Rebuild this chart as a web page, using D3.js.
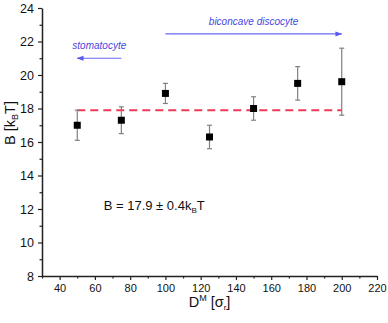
<!DOCTYPE html>
<html>
<head>
<meta charset="utf-8">
<script src="https://cdn.jsdelivr.net/npm/d3@7"></script>
<style>
  body { margin: 0; background: #fff; }
  svg { display: block; font-family: "Liberation Sans", Arial, sans-serif; }
</style>
</head>
<body>
<div id="chart"></div>
<script>
// data
const diameters = [50, 75, 100, 125, 150, 175, 200];
const bValues   = [17.0, 17.3, 18.9, 16.3, 18.0, 19.5, 19.6];
const errLow    = [16.1, 16.5, 18.3, 15.6, 17.3, 18.5, 17.6];
const errHigh   = [17.9, 18.1, 19.5, 17.0, 18.7, 20.5, 21.6];
const meanB = 17.9;
const meanRange = [50, 200];
const xTicks = [40, 60, 80, 100, 120, 140, 160, 180, 200, 220];
const yTicks = [8, 10, 12, 14, 16, 18, 20, 22, 24];
const stomatoArrow = { from: 75, to: 50, y: 21.0, label: 'stomatocyte' };
const biconcArrow = { from: 100, to: 200, y: 22.45, label: 'biconcave discocyte' };

const width = 388, height = 323;
const margin = { top: 8, right: 11, bottom: 47, left: 42 };

const svg = d3.select('#chart').append('svg')
    .attr('width', width)
    .attr('height', height);

const x = d3.scaleLinear().domain([30, 220]).range([margin.left, width - margin.right]);
const y = d3.scaleLinear().domain([8, 24]).range([height - margin.bottom, margin.top]);

const defs = svg.append('defs');
defs.append('marker')
    .attr('id', 'arrowhead')
    .attr('viewBox', '0 0 10 10')
    .attr('refX', 9).attr('refY', 5)
    .attr('markerWidth', 7).attr('markerHeight', 7)
    .attr('markerUnits', 'userSpaceOnUse')
    .attr('orient', 'auto')
    .append('path')
    .attr('d', 'M0,1.5L10,5L0,8.5Z')
    .attr('fill', '#5a5af0');

// axes
const axisColor = '#222';
const xAxis = svg.append('g')
    .attr('transform', `translate(0,${y(8)})`)
    .call(d3.axisBottom(x).tickValues(xTicks).tickSize(4).tickSizeOuter(0).tickPadding(4));
const xMinor = svg.append('g')
    .attr('transform', `translate(0,${y(8)})`)
    .call(d3.axisBottom(x).tickValues(d3.range(30, 221, 10).filter(v => !xTicks.includes(v))).tickSize(2.5).tickFormat(''));
xMinor.select('.domain').remove();

const yAxis = svg.append('g')
    .attr('transform', `translate(${x(30)},0)`)
    .call(d3.axisLeft(y).tickValues(yTicks).tickSize(4).tickSizeOuter(0).tickPadding(4));
const yMinor = svg.append('g')
    .attr('transform', `translate(${x(30)},0)`)
    .call(d3.axisLeft(y).tickValues(d3.range(9, 24, 2)).tickSize(2.5).tickFormat(''));
yMinor.select('.domain').remove();

svg.selectAll('.domain').attr('stroke', axisColor).attr('stroke-width', 1.5);
svg.selectAll('.tick line').attr('stroke', axisColor).attr('stroke-width', 1.2);
xAxis.selectAll('text').attr('font-size', 11).attr('fill', '#111');
yAxis.selectAll('text').attr('font-size', 12.5).attr('fill', '#111');

// axis titles
const xTitle = svg.append('text')
    .attr('x', (x(30) + x(220)) / 2)
    .attr('y', 307)
    .attr('text-anchor', 'middle')
    .attr('font-size', 14.5)
    .attr('fill', '#111');
xTitle.append('tspan').text('D');
xTitle.append('tspan').attr('font-size', 9).attr('dy', -6).text('M');
xTitle.append('tspan').attr('dy', 6).text(' [σ');
xTitle.append('tspan').attr('font-size', 8).attr('dy', 3).text('r');
xTitle.append('tspan').attr('dy', -3).text(']');

const yTitle = svg.append('text')
    .attr('transform', `translate(15,123) rotate(-90)`)
    .attr('text-anchor', 'middle')
    .attr('font-size', 14.5)
    .attr('fill', '#111');
yTitle.append('tspan').text('B [k');
yTitle.append('tspan').attr('font-size', 9).attr('dy', 3).text('B');
yTitle.append('tspan').attr('dy', -3).text('T]');

// mean line
svg.append('line')
    .attr('x1', x(meanRange[0])).attr('x2', x(meanRange[1]))
    .attr('y1', y(meanB)).attr('y2', y(meanB))
    .attr('stroke', '#ef3a57')
    .attr('stroke-width', 2)
    .attr('stroke-dasharray', '8,5');

// error bars
const pts = diameters.map((d, i) => ({ d, b: bValues[i], lo: errLow[i], hi: errHigh[i] }));
const bars = svg.append('g').attr('stroke', '#808080').attr('stroke-width', 1.2);
bars.selectAll('.stem').data(pts).join('line')
    .attr('x1', p => x(p.d)).attr('x2', p => x(p.d))
    .attr('y1', p => y(p.lo)).attr('y2', p => y(p.hi));
bars.selectAll('.capHi').data(pts).join('line')
    .attr('x1', p => x(p.d) - 2.5).attr('x2', p => x(p.d) + 2.5)
    .attr('y1', p => y(p.hi)).attr('y2', p => y(p.hi));
bars.selectAll('.capLo').data(pts).join('line')
    .attr('x1', p => x(p.d) - 2.5).attr('x2', p => x(p.d) + 2.5)
    .attr('y1', p => y(p.lo)).attr('y2', p => y(p.lo));

// markers
const sq = 7;
svg.append('g').selectAll('rect').data(pts).join('rect')
    .attr('x', p => x(p.d) - sq / 2)
    .attr('y', p => y(p.b) - sq / 2)
    .attr('width', sq).attr('height', sq)
    .attr('fill', '#000');

// shape arrows
[stomatoArrow, biconcArrow].forEach(a => {
    svg.append('line')
        .attr('x1', x(a.from)).attr('x2', x(a.to))
        .attr('y1', y(a.y)).attr('y2', y(a.y))
        .attr('stroke', '#6a6af2')
        .attr('stroke-width', 1.2)
        .attr('marker-end', 'url(#arrowhead)');
    svg.append('text')
        .attr('x', (x(a.from) + x(a.to)) / 2)
        .attr('y', y(a.y) - 9)
        .attr('text-anchor', 'middle')
        .attr('font-size', 10)
        .attr('font-style', 'italic')
        .attr('fill', '#4848e0')
        .text(a.label);
});

// fit annotation
const note = svg.append('text')
    .attr('x', x(65))
    .attr('y', y(12) + 1)
    .attr('font-size', 13)
    .attr('fill', '#111');
note.append('tspan').text('B = 17.9 ± 0.4k');
note.append('tspan').attr('font-size', 8).attr('dy', 3).text('B');
note.append('tspan').attr('dy', -3).text('T');
</script>
</body>
</html>
